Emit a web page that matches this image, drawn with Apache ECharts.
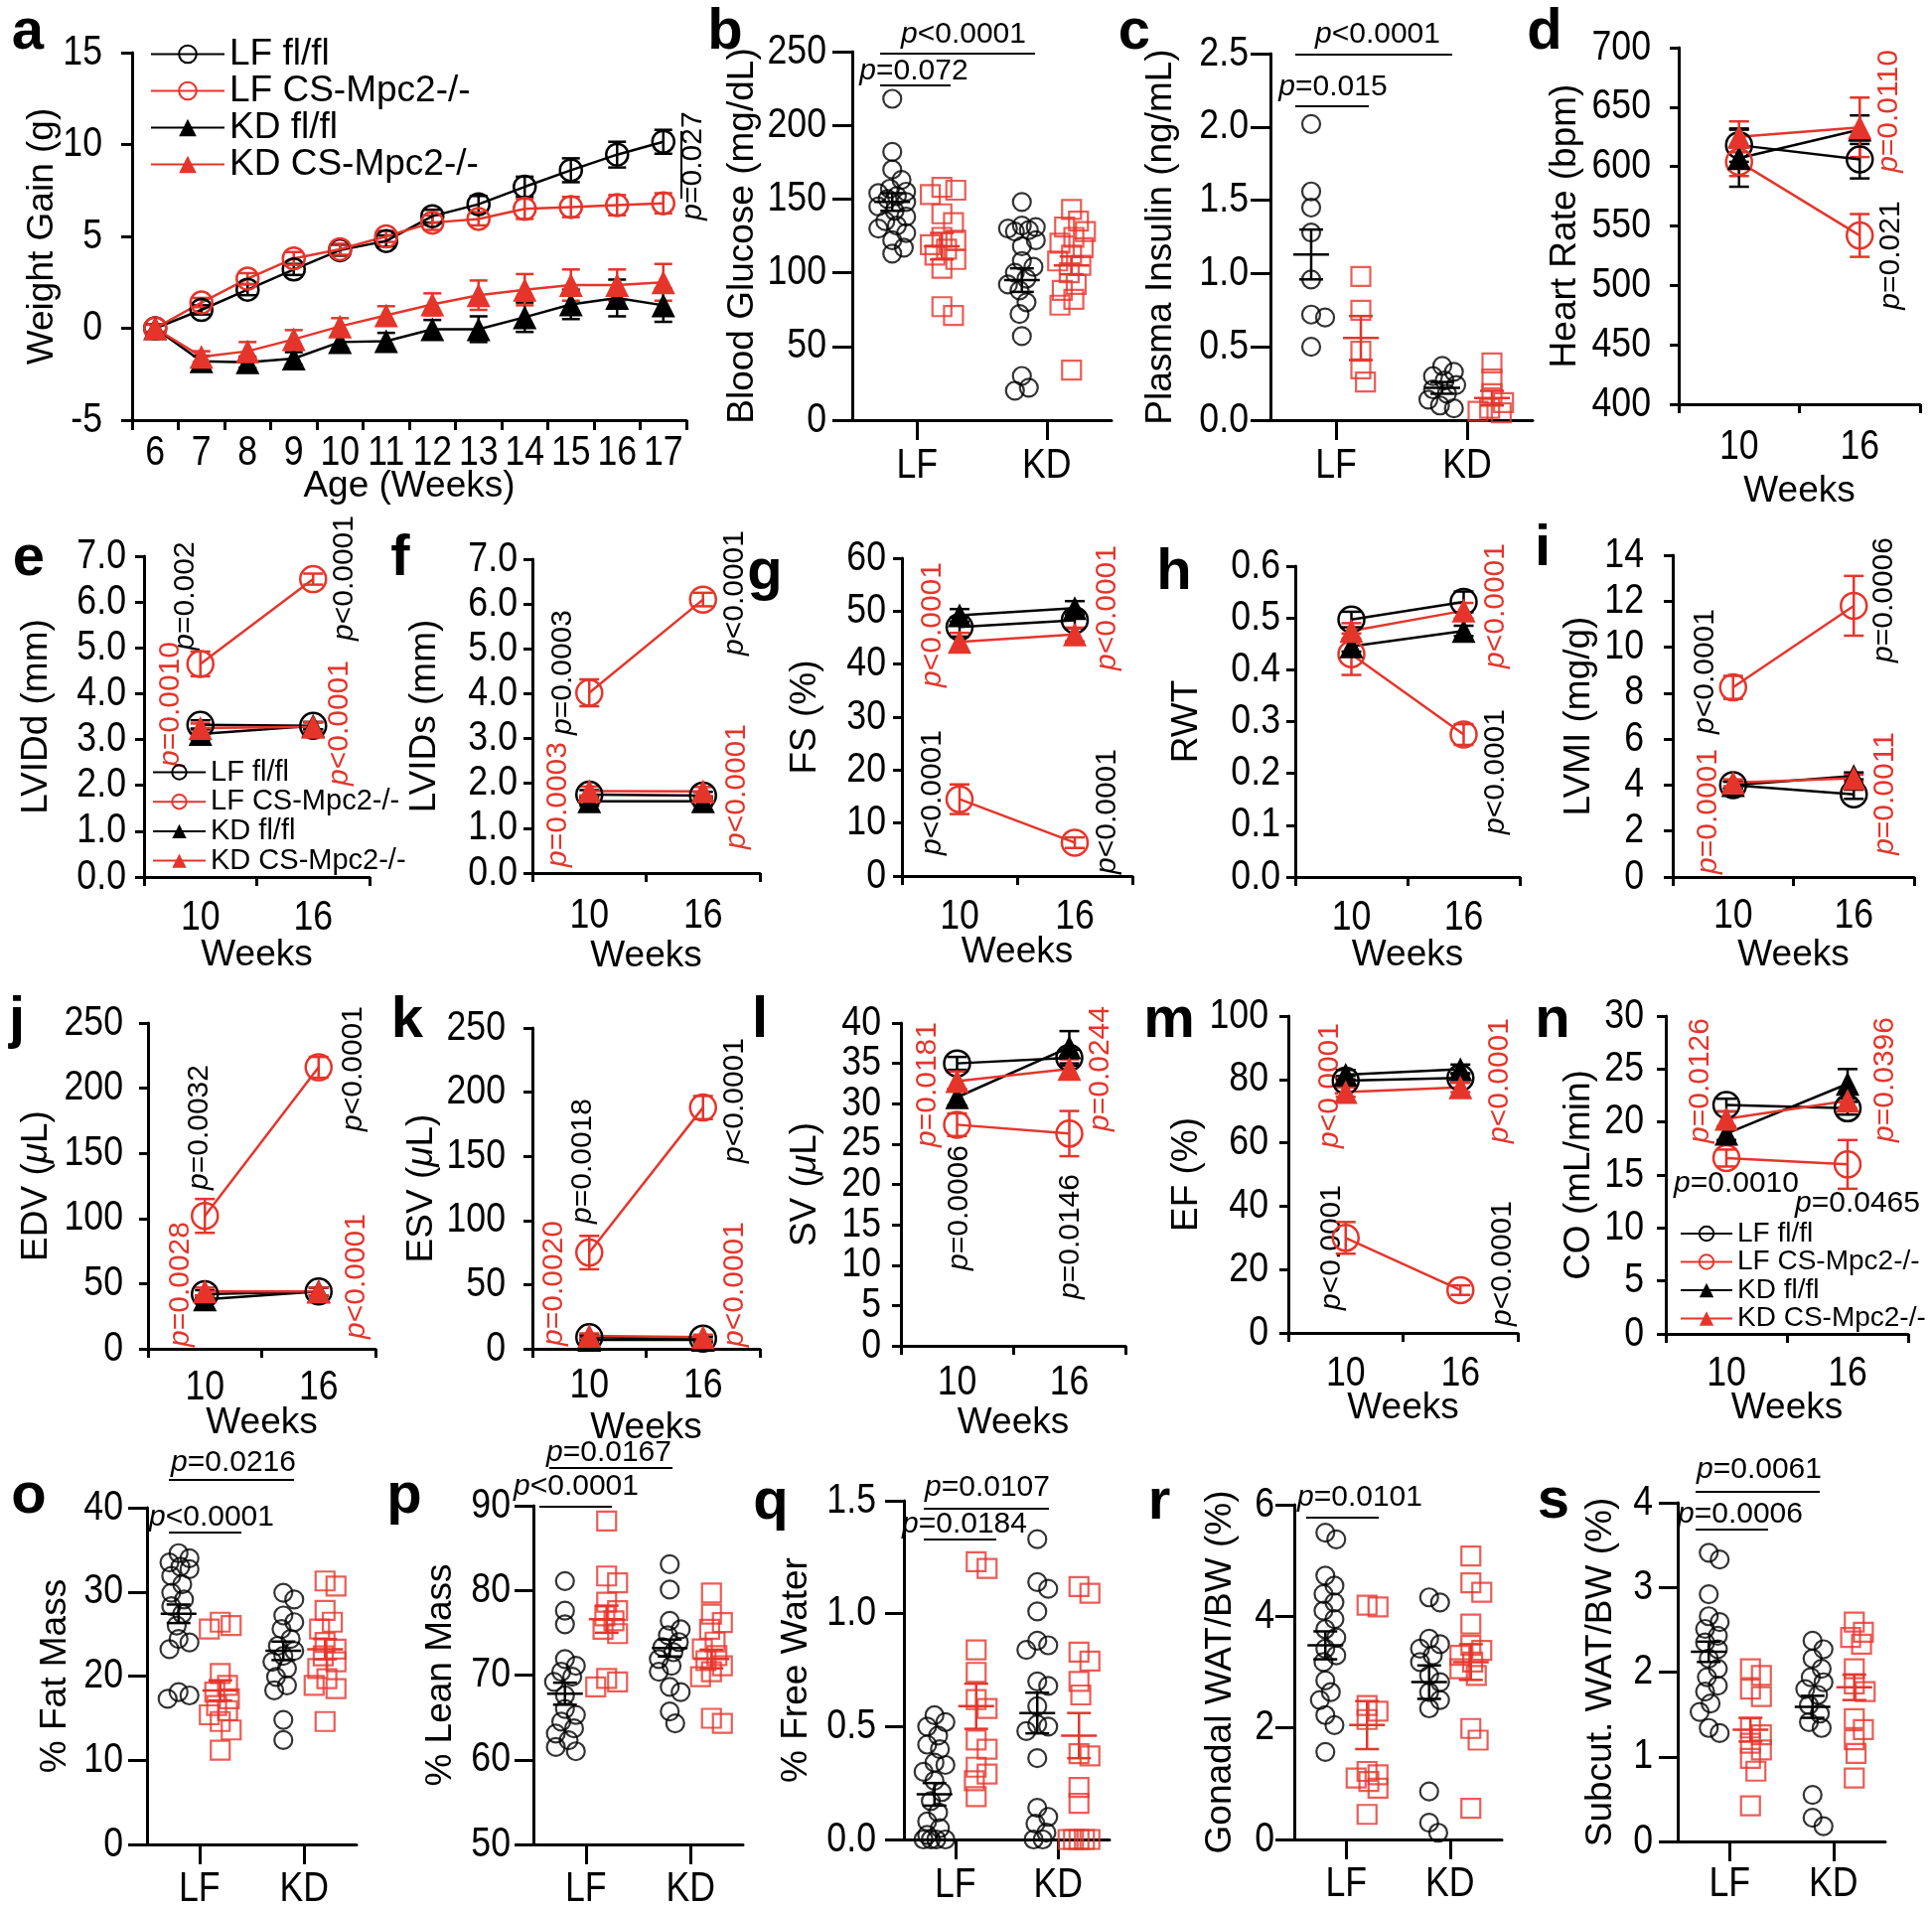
<!DOCTYPE html>
<html><head><meta charset="utf-8">
<script src="https://cdn.jsdelivr.net/npm/echarts@6/dist/echarts.min.js"></script>
<style>html,body{margin:0;padding:0;background:#fff}#c{width:1945px;height:1921px}</style>
</head><body><div id="c"></div>
<script>
// ================= DATA =================
// Panel a: weight gain, [mean, SEM] per week
const ageWeeks = ['6','7','8','9','10','11','12','13','14','15','16','17'];
const a_LF_fl = [[0,0.2],[1.0,0.25],[2.1,0.3],[3.2,0.3],[4.25,0.3],[4.75,0.3],[6.1,0.35],[6.75,0.45],[7.7,0.55],[8.6,0.65],[9.45,0.7],[10.15,0.65]];
const a_LF_ko = [[0,0.2],[1.4,0.25],[2.7,0.3],[3.8,0.35],[4.3,0.3],[5.0,0.3],[5.75,0.4],[5.95,0.35],[6.5,0.55],[6.6,0.55],[6.7,0.55],[6.8,0.55]];
const a_KD_fl = [[0,0.2],[-1.8,0.3],[-1.85,0.3],[-1.65,0.35],[-0.75,0.35],[-0.7,0.45],[-0.05,0.5],[-0.05,0.7],[0.6,0.8],[1.3,0.8],[1.65,1.0],[1.25,0.9]];
const a_KD_ko = [[0,0.2],[-1.55,0.3],[-1.25,0.5],[-0.6,0.5],[0.1,0.45],[0.7,0.5],[1.3,0.6],[1.8,0.8],[2.1,0.85],[2.35,0.85],[2.35,0.85],[2.5,1.0]];

// Panels d–n: echo at 10 and 16 weeks, [mean, SEM]
const echoWeeks = ['10','16'];
const d_LF_fl = [[618,14],[606,16]], d_LF_ko = [[604,12],[542,18]], d_KD_fl = [[607,24],[631,12]], d_KD_ko = [[625,13],[633,25]];
const e_LF_fl = [[3.32,0.1],[3.3,0.08]], e_LF_ko = [[4.65,0.27],[6.5,0.12]], e_KD_fl = [[3.12,0.12],[3.3,0.08]], e_KD_ko = [[3.25,0.1],[3.28,0.1]];
const f_LF_fl = [[1.75,0.1],[1.73,0.08]], f_LF_ko = [[4.02,0.3],[6.1,0.15]], f_KD_fl = [[1.6,0.1],[1.6,0.1]], f_KD_ko = [[1.83,0.1],[1.82,0.1]];
const g_LF_fl = [[47,1.8],[48.3,1.5]], g_LF_ko = [[14.5,2.8],[6.3,1.0]], g_KD_fl = [[49.2,1.2],[50.6,1.3]], g_KD_ko = [[44.2,1.7],[45.6,1.3]];
const h_LF_fl = [[0.497,0.015],[0.531,0.02]], h_LF_ko = [[0.43,0.04],[0.275,0.02]], h_KD_fl = [[0.445,0.01],[0.475,0.01]], h_KD_ko = [[0.475,0.015],[0.514,0.015]];
const i_LF_fl = [[4.0,0.15],[3.6,0.2]], i_LF_ko = [[8.25,0.5],[11.8,1.3]], i_KD_fl = [[4.0,0.15],[4.4,0.15]], i_KD_ko = [[4.1,0.15],[4.3,0.15]];
const j_LF_fl = [[42,3],[44,3]], j_LF_ko = [[102,13],[216,8]], j_KD_fl = [[38,3],[44,3]], j_KD_ko = [[44,3],[44,3]];
const k_LF_fl = [[9,2],[8,2]], k_LF_ko = [[75,13],[188,9]], k_KD_fl = [[7,2],[7,2]], k_KD_ko = [[10,2],[9,2]];
const l_LF_fl = [[35,0.8],[35.7,1]], l_LF_ko = [[27.4,1.4],[26.3,2.8]], l_KD_fl = [[30.8,1],[37,2]], l_KD_ko = [[32.8,1.2],[34.3,1.2]];
const m_LF_fl = [[79.6,1.5],[80.5,1.5]], m_LF_ko = [[30,5],[13.5,1.5]], m_KD_fl = [[81.5,1.5],[83.2,1.5]], m_KD_ko = [[76,1.5],[77.5,1.5]];
const n_LF_fl = [[21.6,0.6],[21.3,0.6]], n_LF_ko = [[16.6,0.8],[16.0,2.3]], n_KD_fl = [[18.9,0.6],[23.6,1.4]], n_KD_ko = [[20.3,0.7],[22,0.7]];

// Dot panels: individual values; means = [mean, SEM] for LF fl, LF ko, KD fl, KD ko
const dietCats = ['LF','KD'];
const b_LF_fl = [218,182,170,163,157,155,154,152,150,148,145,142,138,135,132,130,127,122,117,113];
const b_LF_ko = [158,156,153,140,134,124,122,119,116,112,109,103,77,71];
const b_KD_fl = [148,132,131,130,129,128,122,118,108,104,100,96,92,88,80,72,57,30,22,20];
const b_KD_ko = [143,135,131,128,124,120,117,112,108,105,100,92,88,82,78,34];
const b_means = [[148,6],[118,9],[95,8],[105,6]];
const c_LF_fl = [2.02,1.56,1.45,1.28,0.96,0.72,0.70,0.50];
const c_LF_ko = [0.98,0.75,0.47,0.35,0.26];
const c_KD_fl = [0.37,0.33,0.30,0.27,0.24,0.21,0.18,0.14,0.10,0.08];
const c_KD_ko = [0.39,0.28,0.18,0.12,0.08,0.06,0.05];
const c_means = [[1.13,0.17],[0.56,0.15],[0.22,0.04],[0.15,0.05]];
const o_LF_fl = [34.6,34.0,33.5,33.0,32.7,31.9,30.9,29.9,29.1,28.3,27.4,26.0,24.4,24.0,23.2,18.1,17.7,17.3];
const o_LF_ko = [26.4,26.0,25.6,20.3,18.9,18.1,17.3,16.5,15.9,15.4,14.6,13.6,11.2];
const o_KD_fl = [29.9,29.1,27.2,26.4,25.6,24.4,23.6,23.0,22.4,21.7,20.9,19.9,18.9,18.3,14.8,12.4];
const o_KD_ko = [31.3,30.7,27.8,26.4,25.6,24.0,23.2,22.4,21.7,20.9,19.7,18.9,18.5,14.6];
const o_means = [[27.4,1.1],[18.3,1.2],[23.0,1.1],[23.2,1.2]];
const p_LF_fl = [81.1,77.6,76.0,71.9,71.1,70.4,69.8,69.2,67.6,66.0,65.3,64.5,63.7,63.1,62.3,61.5,61.0];
const p_LF_ko = [88.2,81.7,80.9,78.6,77.6,77.0,76.4,75.4,74.9,69.6,69.2,68.6];
const p_KD_fl = [83.1,80.1,76.4,75.4,74.7,73.9,73.3,72.7,71.9,71.1,70.4,68.6,68.0,65.7,64.3];
const p_KD_ko = [79.7,77.2,76.2,75.4,73.9,73.1,72.3,71.7,71.1,70.4,69.8,64.9,64.3];
const p_means = [[67.8,1.3],[76.6,1.6],[73.2,1.0],[71.9,1.1]];
const q_LF_fl = [0.55,0.52,0.50,0.46,0.42,0.40,0.34,0.33,0.30,0.26,0.21,0.17,0.12,0.08,0.05,0.02,0,0,0,0];
const q_LF_ko = [1.23,1.20,0.84,0.74,0.62,0.58,0.44,0.40,0.32,0.29,0.26,0.19];
const q_KD_fl = [1.33,1.14,1.11,1.01,0.88,0.86,0.84,0.70,0.68,0.59,0.51,0.50,0.48,0.36,0.14,0.10,0.07,0.03,0,0];
const q_KD_ko = [1.12,1.09,0.83,0.79,0.70,0.64,0.38,0.37,0.23,0.16,0,0,0,0,0];
const q_means = [[0.20,0.05],[0.59,0.10],[0.56,0.09],[0.46,0.10]];
const r_LF_fl = [5.5,5.38,4.73,4.55,4.4,4.25,4.1,3.95,3.77,3.62,3.42,3.3,3.18,2.85,2.64,2.5,2.23,2.05,1.57];
const r_LF_ko = [4.2,4.17,2.4,2.3,2.15,1.22,1.16,1.1,1.04,0.92,0.45];
const r_KD_fl = [4.34,4.25,3.6,3.5,3.42,3.3,3.18,2.94,2.82,2.64,2.5,2.35,0.86,0.3,0.12];
const r_KD_ko = [5.08,4.6,4.43,3.86,3.48,3.39,3.3,3.18,3.06,2.94,1.99,1.78,0.56];
const r_means = [[3.48,0.25],[2.05,0.43],[2.82,0.3],[3.18,0.32]];
const s_LF_fl = [3.41,3.33,2.92,2.66,2.59,2.51,2.43,2.35,2.27,2.16,2.04,1.94,1.84,1.77,1.63,1.53,1.34,1.28];
const s_LF_ko = [2.04,1.96,1.80,1.71,1.34,1.26,1.16,1.08,0.98,0.83,0.42];
const s_KD_fl = [2.37,2.27,2.16,2.04,1.94,1.88,1.80,1.73,1.61,1.51,1.41,1.34,0.55,0.28,0.18];
const s_KD_ko = [2.59,2.47,2.41,2.33,2.04,1.86,1.77,1.45,1.32,1.20,1.04,0.75];
const s_means = [[2.24,0.12],[1.32,0.14],[1.59,0.13],[1.82,0.15]];

const groupNames = ['LF fl/fl','LF CS-Mpc2-/-','KD fl/fl','KD CS-Mpc2-/-'];

// ================= STYLE / LAYOUT =================
const FONT = '"Liberation Sans", Arial, Helvetica, sans-serif';
const RED = '#E5352B', BLK = '#000000';
const TICK_FS = 42, TICK_SCALEX = 0.85, NAME_FS = 37, P_FS = 30, LETTER_FS = 58;
const GROUPS = [
  {name:groupNames[0], color:BLK, symbol:'circle', fill:false},
  {name:groupNames[1], color:RED, symbol:'circle', fill:false},
  {name:groupNames[2], color:BLK, symbol:'triangle', fill:true},
  {name:groupNames[3], color:RED, symbol:'triangle', fill:true}
];

const grids = [], xAxis = [], yAxis = [], series = [], meta = [];

function baseAxis(tick) {
  return {
    axisLine:{show:true, onZero:false, lineStyle:{color:BLK, width:3}},
    axisTick:{show:true, length:tick, lineStyle:{color:BLK, width:3}},
    axisLabel:{show:false},
    splitLine:{show:false},
    nameMoveOverlap:false,
    nameTextStyle:{color:BLK, fontSize:NAME_FS, fontFamily:FONT,
      rich:{m:{fontStyle:'italic', fontSize:NAME_FS, fontFamily:FONT, color:BLK}}}
  };
}
function addAxes(p) {
  const i = grids.length;
  grids.push({left:p.grid[0], top:p.grid[1], width:p.grid[2], height:p.grid[3], containLabel:false, outerBoundsMode:'none'});
  const xa = baseAxis(p.xTick);
  Object.assign(xa, {type:'category', gridIndex:i, data:p.cats, boundaryGap:true,
    name:p.xName || '', nameLocation:'middle', nameGap:p.xNameGap || 0});
  xa.axisTick.alignWithLabel = !!p.alignTicks;
  xa.axisTick.interval = 0;
  xAxis.push(xa);
  const ya = baseAxis(p.yTick);
  Object.assign(ya, {type:'value', gridIndex:i, min:p.y[0], max:p.y[1], interval:p.y[2],
    name:p.yName, nameLocation:'middle', nameGap:p.yNameGap, nameRotate:90});
  yAxis.push(ya);
  meta.push({i, left:p.grid[0], y:p.y, cats:p.cats, yLM:p.yLM, xLM:p.xLM});
  return i;
}
function ln(x1,y1,x2,y2,color,w){return {type:'line', shape:{x1,y1,x2,y2}, style:{stroke:color, lineWidth:w}};}
function errRender(color, cap) {
  return function(params, api) {
    const x = api.value(0), m = api.value(1), e = api.value(2);
    const t = api.coord([x, m+e]), b = api.coord([x, m-e]);
    return {type:'group', children:[
      ln(t[0],t[1],b[0],b[1],color,2.5),
      ln(t[0]-cap,t[1],t[0]+cap,t[1],color,2.5),
      ln(b[0]-cap,b[1],b[0]+cap,b[1],color,2.5)
    ]};
  };
}
function meanRender(color, off) {
  return function(params, api) {
    const x = api.value(0), m = api.value(1), e = api.value(2);
    const c = api.coord([x, m]), t = api.coord([x, m+e]), b = api.coord([x, m-e]);
    const cx = c[0] + off, half = 18, cap = 12;
    return {type:'group', children:[
      ln(cx-half,c[1],cx+half,c[1],color,2.5),
      ln(cx,t[1],cx,b[1],color,2.5),
      ln(cx-cap,t[1],cx+cap,t[1],color,2.5),
      ln(cx-cap,b[1],cx+cap,b[1],color,2.5)
    ]};
  };
}
// beeswarm layout: horizontal pixel offsets so that dots do not pile up
function swarm(values, ppu, size, maxOff) {
  const order = values.map((v,i)=>i).sort((a,b)=>values[b]-values[a]);
  const placed = [], offs = new Array(values.length).fill(0);
  const dmin = size*0.72, cands = [0];
  for (let k=1;k<=6;k++){cands.push(k*maxOff/6, -k*maxOff/6);}
  for (const i of order) {
    const y = values[i]*ppu;
    let best = 0, bestScore = -1;
    for (const c of cands) {
      let md = Infinity;
      for (const p of placed) md = Math.min(md, Math.hypot(c-p.x, y-p.y));
      if (md >= dmin) { best = c; bestScore = Infinity; break; }
      if (md > bestScore) { bestScore = md; best = c; }
    }
    offs[i] = best; placed.push({x:best, y});
  }
  return offs;
}

function linePanel(p) {
  const cfg = Object.assign({cats:echoWeeks, xName:'Weeks', alignTicks:false, xTick:9, yTick:9, circ:26, tri:24, cap:10}, p);
  const i = addAxes(cfg);
  cfg.data.forEach((arr, k) => {
    const g = GROUPS[k];
    series.push({type:'custom', xAxisIndex:i, yAxisIndex:i, silent:true, z:2, clip:false,
      renderItem:errRender(g.color, cfg.cap), data:arr.map((d,j)=>[j,d[0],d[1]])});
    series.push({type:'line', name:g.name, xAxisIndex:i, yAxisIndex:i, z:3, silent:true, clip:false,
      data:arr.map(d=>d[0]), symbol:g.symbol, symbolSize:g.fill?cfg.tri:cfg.circ, showAllSymbol:true,
      lineStyle:{color:g.color, width:2.5},
      itemStyle:{color:g.fill?g.color:'rgba(255,255,255,0)', borderColor:g.color, borderWidth:g.fill?0:2.5},
      emphasis:{disabled:true}});
  });
}
function dotPanel(p) {
  const cfg = Object.assign({cats:dietCats, alignTicks:true, xTick:20, yTick:19, off:21, spread:11}, p);
  const i = addAxes(cfg);
  const ppu = cfg.grid[3]/(cfg.y[1]-cfg.y[0]);
  const specs = [[0,-1,'circle',BLK],[0,1,'rect',RED],[1,-1,'circle',BLK],[1,1,'rect',RED]];
  cfg.groups.forEach((vals, k) => {
    const [cat, side, sym, col] = specs[k];
    const base = side*cfg.off, size = sym==='circle'?18:19;
    const jit = swarm(vals, ppu, size, cfg.spread);
    series.push({type:'scatter', xAxisIndex:i, yAxisIndex:i, silent:true, z:3, clip:false,
      symbol:sym, symbolSize:size,
      itemStyle:{color:'rgba(255,255,255,0)', borderColor:col, borderWidth:2.2},
      data:vals.map((v,j)=>({value:[cat, v], symbolOffset:[base+jit[j], 0]}))});
    const ms = cfg.means[k];
    series.push({type:'custom', xAxisIndex:i, yAxisIndex:i, silent:true, z:4, clip:false,
      renderItem:meanRender(col, base), data:[[cat, ms[0], ms[1]]]});
  });
}

// ---- build panels ----
linePanel({grid:[133,53,558,370], cats:ageWeeks, xName:'Age (Weeks)', xNameGap:48, xLM:12, xTick:10, yTick:11,
  y:[-5,15,5,0], yName:'Weight Gain (g)', yNameGap:72, yLM:30, circ:22, tri:24, cap:9,
  data:[a_LF_fl,a_LF_ko,a_KD_fl,a_KD_ko]});
dotPanel({grid:[858,52,261,371], y:[0,250,50,0], yName:'Blood Glucose (mg/dL)', yNameGap:92, yLM:26, xLM:25, yTick:20, off:25, spread:14,
  groups:[b_LF_fl,b_LF_ko,b_KD_fl,b_KD_ko], means:b_means});
dotPanel({grid:[1279,54,264,369], y:[0,2.5,0.5,1], yName:'Plasma Insulin (ng/mL)', yNameGap:92, yLM:22, xLM:25, yTick:20, off:25, spread:14,
  groups:[c_LF_fl,c_LF_ko,c_KD_fl,c_KD_ko], means:c_means});
linePanel({grid:[1690,48,243,359], y:[400,700,50,0], yName:'Heart Rate (bpm)', yNameGap:96, yLM:28, xLM:22, xNameGap:69,
  data:[d_LF_fl,d_LF_ko,d_KD_fl,d_KD_ko]});
linePanel({grid:[145,560,227,323], y:[0,7,1,1], yName:'LVIDd (mm)', yNameGap:90, yLM:18, xLM:20, xNameGap:60,
  data:[e_LF_fl,e_LF_ko,e_KD_fl,e_KD_ko]});
linePanel({grid:[536,563,229,316], y:[0,7,1,1], yName:'LVIDs (mm)', yNameGap:90, yLM:15, xLM:22, xNameGap:65,
  data:[f_LF_fl,f_LF_ko,f_KD_fl,f_KD_ko]});
linePanel({grid:[908,562,232,320], y:[0,60,10,0], yName:'FS (%)', yNameGap:79, yLM:16, xLM:20, xNameGap:58,
  data:[g_LF_fl,g_LF_ko,g_KD_fl,g_KD_ko]});
linePanel({grid:[1304,570,226,313], y:[0,0.6,0.1,1], yName:'RWT', yNameGap:91, yLM:15, xLM:20, xNameGap:60,
  data:[h_LF_fl,h_LF_ko,h_KD_fl,h_KD_ko]});
linePanel({grid:[1684,559,243,324], y:[0,14,2,0], yName:'LVMI (mg/g)', yNameGap:76, yLM:29, xLM:18, xNameGap:60,
  data:[i_LF_fl,i_LF_ko,i_KD_fl,i_KD_ko]});
linePanel({grid:[149,1030,229,328], y:[0,250,50,0], yName:'EDV ({m|μ}L)', yNameGap:94, yLM:25, xLM:18, xNameGap:56,
  data:[j_LF_fl,j_LF_ko,j_KD_fl,j_KD_ko]});
linePanel({grid:[536,1035,229,323], y:[0,250,50,0], yName:'ESV ({m|μ}L)', yNameGap:93, yLM:27, xLM:16, xNameGap:61,
  data:[k_LF_fl,k_LF_ko,k_KD_fl,k_KD_ko]});
linePanel({grid:[907,1030,226,325], y:[0,40,5,0], yName:'SV ({m|μ}L)', yNameGap:78, yLM:20, xLM:16, xNameGap:59,
  data:[l_LF_fl,l_LF_ko,l_KD_fl,l_KD_ko]});
linePanel({grid:[1297,1023,231,319], y:[0,100,20,0], yName:'EF (%)', yNameGap:84, yLM:20, xLM:20, xNameGap:57,
  data:[m_LF_fl,m_LF_ko,m_KD_fl,m_KD_ko]});
linePanel({grid:[1677,1023,244,320], y:[0,30,5,0], yName:'CO (mL/min)', yNameGap:69, yLM:22, xLM:19, xNameGap:56,
  data:[n_LF_fl,n_LF_ko,n_KD_fl,n_KD_ko]});
dotPanel({grid:[148,1518,211,339], y:[0,40,10,0], yName:'% Fat Mass', yNameGap:74, yLM:24, xLM:24,
  groups:[o_LF_fl,o_LF_ko,o_KD_fl,o_KD_ko], means:o_means});
dotPanel({grid:[537,1516,211,341], y:[50,90,10,0], yName:'% Lean Mass', yNameGap:75, yLM:23, xLM:24,
  groups:[p_LF_fl,p_LF_ko,p_KD_fl,p_KD_ko], means:p_means});
dotPanel({grid:[910,1511,207,341], y:[0,1.5,0.5,1], yName:'% Free Water', yNameGap:90, yLM:28, xLM:25,
  groups:[q_LF_fl,q_LF_ko,q_KD_fl,q_KD_ko], means:q_means});
dotPanel({grid:[1303,1515,209,337], y:[0,6,2,0], yName:'Gonadal WAT/BW (%)', yNameGap:56, yLM:20, xLM:24,
  groups:[r_LF_fl,r_LF_ko,r_KD_fl,r_KD_ko], means:r_means});
dotPanel({grid:[1689,1513,209,341], y:[0,4,1,0], yName:'Subcut. WAT/BW (%)', yNameGap:59, yLM:25, xLM:22,
  groups:[s_LF_fl,s_LF_ko,s_KD_fl,s_KD_ko], means:s_means});

// ---- annotations ----
const B = BLK, R = RED;
const pLabels = [ // text, x, y, color, rotated
  ['p=0.027',698,167,B,1],
  ['p=0.072',920,72,B,0],['p<0.0001',970,35,B,0],
  ['p=0.015',1342,88,B,0],['p<0.0001',1387,35,B,0],
  ['p=0.0110',1902,112,R,1],['p=0.021',1904,257,B,1],
  ['p=0.002',187,600,B,1],['p=0.0010',172,709,R,1],['p<0.0001',347,582,B,1],['p<0.0001',342,728,R,1],
  ['p=0.0003',567,677,B,1],['p=0.0003',562,810,R,1],['p<0.0001',740,597,B,1],['p<0.0001',742,792,R,1],
  ['p<0.0001',939,629,R,1],['p<0.0001',1115,612,R,1],['p<0.0001',939,798,B,1],['p<0.0001',1115,817,B,1],
  ['p<0.0001',1506,610,R,1],['p<0.0001',1506,777,B,1],
  ['p<0.0001',1717,676,B,1],['p=0.0001',1720,817,R,1],['p=0.0006',1897,604,B,1],['p=0.0011',1898,799,R,1],
  ['p=0.0032',201,1135,B,1],['p=0.0028',182,1293,R,1],['p<0.0001',356,1076,B,1],['p<0.0001',359,1285,R,1],
  ['p=0.0018',587,1169,B,1],['p=0.0020',558,1292,R,1],['p<0.0001',740,1108,B,1],['p<0.0001',740,1293,R,1],
  ['p=0.0181',934,1092,R,1],['p=0.0006',966,1216,B,1],['p=0.0244',1108,1076,R,1],['p=0.0146',1078,1245,B,1],
  ['p<0.0001',1339,1093,R,1],['p<0.0001',1510,1088,R,1],['p<0.0001',1341,1256,B,1],['p<0.0001',1513,1272,B,1],
  ['p=0.0126',1712,1088,R,1],['p=0.0396',1898,1087,R,1],['p=0.0010',1748,1192,B,0],['p=0.0465',1870,1212,B,0],
  ['p<0.0001',213,1528,B,0],['p=0.0216',235,1473,B,0],
  ['p<0.0001',580,1497,B,0],['p=0.0167',613,1463,B,0],
  ['p=0.0184',971,1535,B,0],['p=0.0107',994,1498,B,0],
  ['p=0.0101',1369,1508,B,0],
  ['p=0.0006',1752,1525,B,0],['p=0.0061',1771,1480,B,0]
];
const brackets = [
  [686,132,686,200],
  [886,86,957,86],[886,54,1042,54],
  [1304,107,1378,107],[1304,55,1462,55],
  [170,1543,243,1543],[170,1490,296,1490],
  [543,1517,616,1517],[553,1478,677,1478],
  [930,1550,1003,1550],[930,1519,1056,1519],
  [1315,1528,1388,1528],
  [1707,1540,1780,1540],[1707,1502,1832,1502]
];
const letters = [['a',28,33],['b',730,33],['c',1142,33],['d',1555,33],['e',29,563],['f',403,563],['g',770,577],
  ['h',1182,577],['i',1553,553],['j',17,1028],['k',410,1028],['l',765,1028],['m',1177,1028],['n',1563,1028],
  ['o',29,1507],['p',407,1507],['q',776,1513],['r',1167,1513],['s',1564,1512]];

const graphics = [];
letters.forEach(([t,x,y]) => graphics.push({type:'text', x, y, silent:true,
  style:{text:t, fill:BLK, fontSize:LETTER_FS, fontWeight:'bold', fontFamily:FONT, align:'center', verticalAlign:'middle'}}));
pLabels.forEach(([t,x,y,col,rot]) => graphics.push({type:'text', x, y, rotation:rot?Math.PI/2:0, silent:true,
  style:{text:'{i|p}{n|' + t.slice(1) + '}', fill:col, fontSize:P_FS, fontFamily:FONT, align:'center', verticalAlign:'middle',
    rich:{i:{fontStyle:'italic', fontSize:P_FS, fontFamily:FONT, fill:col}, n:{fontSize:P_FS, fontFamily:FONT, fill:col}}}}));
brackets.forEach(([x1,y1,x2,y2]) => graphics.push({type:'line', silent:true, shape:{x1,y1,x2,y2}, style:{stroke:BLK, lineWidth:2}}));

function legendAt(left, top, iw, ih, gap, fs) {
  return {left, top, orient:'vertical', itemWidth:iw, itemHeight:ih, itemGap:gap, selectedMode:false,
    padding:0, data:groupNames, textStyle:{fontSize:fs, lineHeight:fs, fontFamily:FONT, color:BLK}};
}

const chart = echarts.init(document.getElementById('c'), null, {renderer:'canvas'});
chart.setOption({
  animation:false, backgroundColor:'#ffffff', textStyle:{fontFamily:FONT},
  grid:grids, xAxis, yAxis, series,
  legend:[legendAt(151,36,74,22,0,37), legendAt(153,763,53,18,0.7,29), legendAt(1691,1228,52,18,0.5,28)],
  graphic:{elements:graphics}
});

// ---- tick labels (condensed face), placed through each axis' own scale ----
const tickText = [];
function tickLabel(text, x, y, align, vAlign) {
  tickText.push({type:'text', x, y, scaleX:TICK_SCALEX, silent:true,
    style:{text, fill:BLK, fontSize:TICK_FS, fontFamily:FONT, align, verticalAlign:vAlign}});
}
meta.forEach(m => {
  const n = Math.round((m.y[1]-m.y[0])/m.y[2]);
  for (let k = 0; k <= n; k++) {
    const v = m.y[0] + k*m.y[2];
    const pt = chart.convertToPixel({xAxisIndex:m.i, yAxisIndex:m.i}, [0, v]);
    tickLabel(v.toFixed(m.y[3]), m.left - m.yLM, pt[1], 'right', 'middle');
  }
  m.cats.forEach((c, k) => {
    const pt = chart.convertToPixel({xAxisIndex:m.i, yAxisIndex:m.i}, [k, m.y[0]]);
    tickLabel(c, pt[0], pt[1] + m.xLM, 'center', 'top');
  });
});
chart.setOption({graphic:{elements:graphics.concat(tickText)}});
</script></body></html>
